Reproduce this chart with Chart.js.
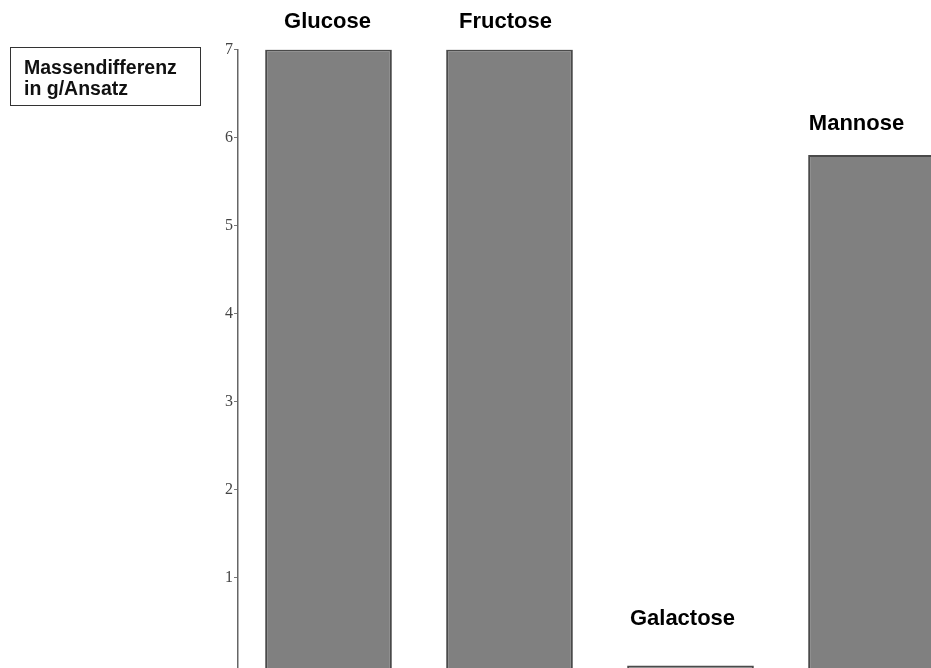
<!DOCTYPE html>
<html lang="de">
<head>
  <meta charset="UTF-8">
  <title>Massendifferenz</title>
  <script src="https://cdn.jsdelivr.net/npm/chart.js"></script>
  <style>
    html, body { margin: 0; padding: 0; background: #fff; overflow: hidden; }
    #wrap { position: absolute; left: 0; top: 0; width: 962px; height: 720px; }
    .kasten {
      position: absolute; left: 10px; top: 47px; width: 191px; height: 59px;
      border: 1.5px solid #333; font-family: "Liberation Sans", Arial, sans-serif;
      font-weight: bold; font-size: 19.5px; line-height: 21px; color: #111;
      padding: 9px 0 0 13px; box-sizing: border-box;
    }
  </style>
</head>
<body>
  <div id="wrap"><canvas id="grafik" width="962" height="720"></canvas></div>
  <div class="kasten">Massendifferenz<br>in g/Ansatz</div>

  <script>
    const zucker = ['Glucose', 'Fructose', 'Galactose', 'Mannose'];
    const differenz = [7.0, 7.0, 0.0, 5.8];
    const yTicks = [1, 2, 3, 4, 5, 6, 7];

    // Beschriftung ueber jedem Balken
    const balkenText = {
      id: 'balkenText',
      afterDatasetsDraw(chart, args, opts) {
        const ctx = chart.ctx;
        const meta = chart.getDatasetMeta(0);
        ctx.save();
        ctx.font = 'bold 22px "Liberation Sans", Arial, sans-serif';
        ctx.fillStyle = '#000';
        ctx.textAlign = 'center';
        ctx.textBaseline = 'alphabetic';
        meta.data.forEach((bar, i) => {
          const top = Math.min(bar.y, bar.base);
          ctx.fillText(chart.data.labels[i], bar.x + opts.shift[i], top - opts.gap[i]);
        });
        ctx.restore();
      }
    };

    const ctx = document.getElementById('grafik').getContext('2d');
    new Chart(ctx, {
      type: 'bar',
      data: {
        labels: zucker,
        datasets: [{
          data: differenz,
          base: -0.5,
          backgroundColor: '#808080',
          borderColor: '#4a4a4a',
          borderWidth: 2,
          borderSkipped: false,
          categoryPercentage: 1,
          barPercentage: 0.7
        }]
      },
      options: {
        responsive: false,
        animation: false,
        layout: { padding: { top: 49.5, left: 0, right: 0, bottom: 0 } },
        plugins: {
          legend: { display: false },
          tooltip: { enabled: false },
          balkenText: { gap: [22, 22, 40, 25], shift: [-1, -4, -8, -15] }
        },
        scales: {
          x: { display: false },
          y: {
            min: -0.5,
            max: 7,
            afterFit(scale) { scale.width = 238; },
            afterBuildTicks(scale) { scale.ticks = yTicks.map(v => ({ value: v })); },
            border: { display: true, color: '#666', width: 1.5 },
            grid: { drawOnChartArea: false, tickLength: 4, color: '#777' },
            ticks: {
              padding: 1,
              color: '#444',
              font: { family: '"Liberation Serif", "DejaVu Serif", serif', size: 16 }
            }
          }
        }
      },
      plugins: [balkenText]
    });
  </script>
</body>
</html>
